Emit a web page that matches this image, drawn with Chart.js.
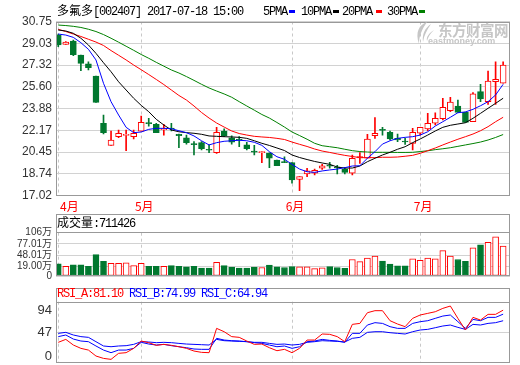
<!DOCTYPE html>
<html lang="zh-CN">
<head>
<meta charset="utf-8">
<title>多氟多 002407</title>
<script src="https://cdn.jsdelivr.net/npm/chart.js@4.4.1/dist/chart.umd.min.js"></script>
<style>
  html, body { margin: 0; padding: 0; background: #fff; }
  #board { position: relative; width: 520px; height: 365px; overflow: hidden; }
  #board canvas { position: absolute; left: 0; }
  .t { position: absolute; font: 12px "Liberation Mono", monospace; letter-spacing: -1.2px; line-height: 14px; white-space: nowrap; color: #000; }
  .cjk { font-family: "Noto Sans CJK SC", sans-serif; letter-spacing: 0; }
  .key { display: inline-block; width: 6px; height: 3px; vertical-align: middle; }
  .mark { position: absolute; color: #c6c6c6; font-family: "Noto Sans CJK SC", sans-serif; font-weight: bold; white-space: nowrap; }
  #logo { position: absolute; left: 414px; top: 22px; }
</style>
</head>
<body>
<div id="board">
  <canvas id="priceChart" width="520" height="214" style="top:0"></canvas>
  <canvas id="volumeChart" width="520" height="72" style="top:214px"></canvas>
  <canvas id="rsiChart" width="520" height="79" style="top:286px"></canvas>
  <div class="t" id="title" style="left:57px; top:3px"></div>
  <div class="t" id="maKeys" style="left:263px; top:5px"></div>
  <svg id="logo" width="20" height="22" viewBox="0 0 20 22">
    <path d="M13 0 C5 3 1 10 5 22 C5 14 8 7 13 0 Z" fill="#c6c6c6"/>
    <path d="M17 2 C11 6 8 12 9 20 C10 13 13 8 17 2 Z" fill="#c6c6c6"/>
    <path d="M20 8 C15 11 12 15 13 19 C14 15 16 12 20 8 Z" fill="#c6c6c6"/>
  </svg>
  <div class="mark" style="left:438px; top:19px; font-size:14.5px; letter-spacing:-0.5px">东方财富网</div>
  <div class="mark" style="left:428px; top:36px; font-size:9px; font-family:'Liberation Sans',sans-serif">eastmoney.com</div>
  <div class="t" id="volTitle" style="left:57px; top:215px"></div>
  <div class="t" id="rsiTitle" style="left:57px; top:287px"></div>
</div>
<script>
// ---- data ----
const stockName = '多氟多';
const stockCode = '002407';
const stamp = '2017-07-18 15:00';

const monthStarts = [0, 11, 31, 48];
const monthNames = ['4月', '5月', '6月', '7月'];

const open = [29.68, 28.95, 29.21, 28.11, 27.42, 26.45, 22.73, 20.99, 21.67, 21.78,
  21.67, 22.10, 22.75, 22.65, 22.23, 22.32, 21.86, 21.59, 21.09, 21.20,
  20.65, 20.41, 22.12, 21.59, 21.43, 21.02, 20.51, 20.42, 20.36, 19.83,
  19.68, 19.63, 18.31, 18.73, 18.79, 19.18, 19.38, 19.25, 19.12, 18.79,
  19.99, 19.97, 21.75, 22.22, 22.02, 21.54, 21.30, 21.15, 21.94, 22.28,
  22.73, 23.09, 23.72, 24.09, 23.59, 22.85, 25.22, 24.43, 26.00, 25.88];
const high = [29.76, 29.17, 29.29, 28.11, 27.58, 26.45, 23.38, 22.12, 22.20, 22.20,
  22.20, 23.30, 23.12, 22.73, 22.65, 22.73, 21.88, 21.80, 21.28, 21.28,
  21.02, 22.41, 22.30, 21.73, 21.67, 21.23, 20.99, 20.49, 20.39, 19.83,
  20.09, 19.63, 18.52, 19.18, 19.12, 19.49, 19.65, 19.42, 19.23, 20.23,
  20.41, 21.86, 23.17, 22.41, 22.12, 21.88, 21.54, 22.33, 22.41, 23.51,
  23.56, 24.70, 24.78, 24.56, 23.62, 25.14, 25.80, 26.85, 27.58, 27.58];
const low = [28.76, 28.94, 28.05, 26.87, 26.93, 24.38, 21.88, 20.99, 21.59, 20.57,
  21.49, 22.10, 22.51, 21.99, 21.80, 22.12, 20.80, 21.09, 20.23, 20.62,
  20.41, 20.36, 21.67, 21.09, 20.88, 20.62, 20.23, 19.62, 19.23, 19.38,
  19.63, 18.00, 17.41, 18.52, 18.65, 19.10, 19.18, 18.73, 18.73, 18.65,
  19.57, 19.97, 21.54, 21.80, 21.41, 21.28, 21.07, 20.62, 21.80, 22.14,
  22.59, 22.99, 23.64, 23.59, 22.80, 22.85, 24.43, 24.22, 24.22, 25.88];
const close = [28.90, 29.13, 28.13, 27.45, 27.11, 24.38, 21.99, 21.41, 21.94, 21.83,
  21.94, 22.80, 22.70, 21.99, 22.28, 22.28, 21.75, 21.20, 21.05, 20.72,
  20.60, 22.02, 21.75, 21.23, 21.39, 20.72, 20.46, 20.46, 19.97, 19.38,
  19.63, 18.26, 18.52, 18.99, 19.02, 19.38, 19.34, 19.20, 18.86, 19.97,
  20.11, 21.49, 21.94, 22.17, 21.49, 21.41, 21.25, 22.02, 22.41, 22.73,
  23.12, 23.99, 24.40, 23.59, 22.80, 25.04, 24.64, 26.06, 26.19, 27.32];

const ma5 = [29.76, 29.68, 29.50, 29.08, 28.56, 27.72, 25.88, 24.43, 23.38, 22.41,
  21.99, 22.04, 22.25, 22.33, 22.33, 22.30, 22.14, 21.99, 21.73, 21.35,
  21.02, 21.20, 21.31, 21.35, 21.39, 21.35, 21.23, 20.99, 20.49, 20.09,
  19.89, 19.49, 19.12, 18.91, 18.86, 18.97, 19.05, 19.12, 19.23, 19.36,
  19.38, 19.97, 20.49, 21.09, 21.35, 21.54, 21.62, 21.67, 21.80, 22.06,
  22.51, 22.85, 23.20, 23.56, 23.62, 23.83, 24.11, 24.43, 24.96, 25.80];
const ma10 = [30.08, 30.00, 29.82, 29.43, 28.90, 28.24, 27.50, 26.79, 26.00, 25.35,
  24.70, 24.14, 23.64, 23.04, 22.59, 22.20, 22.06, 21.99, 21.94, 21.86,
  21.73, 21.70, 21.67, 21.65, 21.62, 21.54, 21.35, 21.15, 20.98, 20.78,
  20.58, 20.23, 20.03, 19.87, 19.72, 19.60, 19.49, 19.28, 19.20, 19.20,
  19.36, 19.70, 19.97, 20.23, 20.44, 20.68, 20.88, 21.20, 21.49, 21.80,
  22.12, 22.41, 22.57, 22.67, 22.77, 23.12, 23.51, 23.91, 24.30, 24.70];
const ma20 = [30.13, 29.96, 29.76, 29.57, 29.35, 29.13, 28.86, 28.46, 28.09, 27.72,
  27.32, 26.95, 26.57, 26.18, 25.78, 25.35, 24.92, 24.56, 24.09, 23.58,
  23.14, 22.75, 22.43, 22.12, 21.92, 21.80, 21.70, 21.65, 21.61, 21.54,
  21.45, 21.25, 21.07, 20.90, 20.70, 20.54, 20.43, 20.31, 20.20, 20.11,
  20.02, 20.02, 20.02, 20.05, 20.05, 20.07, 20.13, 20.20, 20.36, 20.57,
  20.78, 21.02, 21.25, 21.47, 21.67, 21.88, 22.14, 22.46, 22.85, 23.20];
const ma30 = [30.47, 30.43, 30.37, 30.28, 30.14, 29.96, 29.72, 29.43, 29.12, 28.80,
  28.48, 28.15, 27.85, 27.53, 27.23, 26.93, 26.69, 26.41, 26.11, 25.80,
  25.51, 25.27, 25.04, 24.78, 24.43, 24.09, 23.76, 23.42, 23.14, 22.79,
  22.43, 22.04, 21.76, 21.47, 21.15, 20.96, 20.88, 20.80, 20.68, 20.57,
  20.50, 20.46, 20.44, 20.44, 20.44, 20.43, 20.43, 20.44, 20.50, 20.56,
  20.65, 20.72, 20.80, 20.91, 21.02, 21.13, 21.25, 21.41, 21.61, 21.84];

// volume in 万 (10k)
const volume = [25.2, 19.0, 22.8, 22.8, 19.0, 49.0, 31.6, 26.8, 26.8, 27.6,
  20.4, 26.8, 19.0, 19.0, 19.0, 20.4, 19.0, 17.3, 19.0, 14.2,
  14.2, 29.2, 20.4, 16.6, 14.2, 14.2, 16.6, 15.7, 22.1, 17.3,
  15.7, 18.0, 17.3, 17.3, 12.6, 15.0, 18.0, 15.7, 13.3, 36.4,
  30.9, 40.4, 45.1, 32.3, 24.5, 19.7, 19.7, 38.0, 34.0, 40.4,
  38.0, 59.4, 45.1, 36.4, 31.6, 66.5, 74.4, 80.8, 95.1, 71.1426];

const rsiA = [32.0, 36.5, 27.9, 22.8, 20.2, 11.1, 7.5, 6.0, 15.2, 16.2,
  22.8, 34.0, 31.5, 27.4, 28.9, 27.4, 25.3, 22.8, 18.7, 16.7,
  16.2, 53.3, 48.2, 40.7, 39.6, 34.0, 28.9, 29.4, 23.8, 19.2,
  21.3, 16.2, 22.8, 35.5, 35.5, 44.7, 44.2, 40.7, 33.0, 59.4,
  60.9, 77.2, 80.3, 80.3, 65.0, 59.9, 55.9, 68.6, 73.7, 76.2,
  78.7, 83.8, 87.4, 68.6, 50.8, 70.1, 66.0, 74.7, 74.7, 81.10];
const rsiB = [40.7, 43.2, 37.0, 34.0, 33.0, 26.4, 20.2, 16.2, 20.2, 20.2,
  22.8, 32.0, 29.4, 27.9, 28.9, 26.9, 25.3, 23.8, 21.8, 21.3,
  21.3, 38.1, 35.5, 34.5, 34.0, 33.0, 31.5, 30.4, 27.9, 25.3,
  26.4, 22.8, 25.3, 33.0, 34.0, 36.5, 35.0, 34.0, 32.0, 45.7,
  45.7, 58.4, 62.0, 60.9, 55.9, 53.3, 53.3, 60.9, 63.5, 65.0,
  68.6, 72.1, 73.7, 63.5, 53.3, 67.0, 65.0, 70.1, 70.1, 74.99];
const rsiC = [45.7, 47.2, 43.2, 40.7, 39.6, 33.0, 26.4, 25.3, 26.4, 26.9,
  28.9, 33.0, 32.5, 31.5, 32.0, 31.5, 30.4, 29.4, 28.9, 28.4,
  27.9, 36.5, 34.5, 34.0, 33.5, 33.0, 32.0, 32.0, 30.4, 28.9,
  29.4, 27.9, 28.9, 32.0, 33.0, 34.5, 34.0, 33.5, 32.5, 38.1,
  39.6, 47.2, 48.2, 48.2, 46.7, 45.7, 44.7, 48.2, 50.8, 51.8,
  54.3, 56.9, 58.4, 54.8, 51.8, 59.4, 58.4, 60.9, 62.0, 64.94];

const priceTicks = [17.02, 18.74, 20.45, 22.17, 23.88, 25.60, 27.32, 29.03, 30.75];
const volumeTicks = [0, 19.00, 48.01, 77.01, 106];
const volumeTickText = ['0', '19.00万', '48.01万', '77.01万', '106万'];
const rsiTicks = [0, 47, 94];

// ---- look ----
const RED = '#ff0000';
const GREEN = '#00782f';
const BLUE = '#0000ff';
const GRID = '#d2d2d2';
const FRAME = '#999999';
const X_MIN = -0.3, X_MAX = 59.91;   // candle 0 sits just inside the left edge
const VOL_FLOOR = -6.4;              // the volume panel bottom sits a bit under 0

const up = close.map((c, i) => c >= open[i]);
const pts = arr => arr.map((v, i) => ({ x: i, y: v }));

document.getElementById('title').innerHTML =
  `<span class="cjk">${stockName}</span>[${stockCode}] ${stamp}`;
document.getElementById('maKeys').innerHTML =
  '5PMA<span class="key" style="background:#0000ff;margin:0 6px 0 2px"></span>' +
  '10PMA<span class="key" style="background:#000;margin:0 3px 0 2px"></span>' +
  '20PMA<span class="key" style="background:#ff0000;margin:0 5px 0 4px"></span>' +
  '30PMA<span class="key" style="background:#008000;margin:0 0 0 2px"></span>';
document.getElementById('volTitle').innerHTML =
  `<span class="cjk">成交量</span>:${Math.round(volume[volume.length - 1] * 10000)}`;
document.getElementById('rsiTitle').innerHTML =
  `<span style="color:${RED}">RSI_A:${rsiA[rsiA.length - 1].toFixed(2)}</span> ` +
  `<span style="color:${BLUE}">RSI_B:${rsiB[rsiB.length - 1].toFixed(2)}</span> ` +
  `<span style="color:${BLUE}">RSI_C:${rsiC[rsiC.length - 1].toFixed(2)}</span>`;

// box around a panel; opts.top lets the box reach above the plot (title strip)
const framePlugin = {
  id: 'frame',
  afterDraw(chart, args, opts) {
    const { ctx, chartArea: a } = chart;
    const top = opts.top !== undefined ? opts.top : a.top;
    ctx.save();
    ctx.strokeStyle = FRAME;
    ctx.lineWidth = 1;
    const l = Math.round(a.left) + 0.5, r = Math.round(a.right) - 0.5;
    const t = Math.round(top) + 0.5, b = Math.round(a.bottom) - 0.5;
    ctx.strokeRect(l, t, r - l, b - t);
    if (opts.divider) {
      const y = Math.round(a.top) + 0.5;
      ctx.beginPath(); ctx.moveTo(l, y); ctx.lineTo(r, y); ctx.stroke();
    }
    ctx.restore();
  }
};

const monthLabelPlugin = {
  id: 'monthLabels',
  afterDraw(chart) {
    const { ctx, chartArea: a, scales: { x } } = chart;
    ctx.save();
    ctx.font = '12px "Noto Sans CJK SC", sans-serif';
    ctx.fillStyle = RED;
    ctx.textAlign = 'center';
    ctx.textBaseline = 'middle';
    monthStarts.forEach((v, i) => {
      const w = ctx.measureText(monthNames[i]).width;
      const cx = Math.max(x.getPixelForValue(v) + 3, a.left + 4 + w / 2);
      ctx.fillText(monthNames[i], cx, a.bottom + 10.5);
    });
    ctx.restore();
  }
};

const rsiLabelPlugin = {
  id: 'rsiLabels',
  afterDraw(chart) {
    const { ctx, chartArea: a, scales: { y } } = chart;
    ctx.save();
    ctx.font = '13px "Liberation Sans", Arial, sans-serif';
    ctx.fillStyle = '#333';
    ctx.textAlign = 'right';
    ctx.textBaseline = 'middle';
    rsiTicks.forEach(v => {
      const py = Math.min(Math.max(y.getPixelForValue(v), a.top + 9), a.bottom - 7);
      ctx.fillText(String(v), a.left - 4, py);
    });
    ctx.restore();
  }
};

function xAxis() {
  return {
    type: 'linear',
    min: X_MIN,
    max: X_MAX,
    offset: false,
    afterBuildTicks: s => { s.ticks = monthStarts.map(v => ({ value: v })); },
    afterFit: s => { s.height = 0; },
    ticks: { display: false },
    grid: { color: '#c8c8c8', drawTicks: false, offset: false },
    border: { display: false, dash: [3, 3] }
  };
}

function baseOptions(padding) {
  return {
    responsive: false,
    animation: false,
    devicePixelRatio: 1,
    events: [],
    layout: { padding },
    plugins: { legend: { display: false }, tooltip: { enabled: false } }
  };
}

const maLine = (label, data, color) => ({
  type: 'line', label, data: pts(data), borderColor: color, borderWidth: 1,
  pointRadius: 0, tension: 0, fill: false, order: 0
});

// ---- price panel ----
const priceOptions = baseOptions({ left: 0, right: 10, top: 21.5, bottom: 18.3 });
priceOptions.scales = {
  x: xAxis(),
  y: {
    min: 17.02,
    max: 30.75,
    afterBuildTicks: s => { s.ticks = priceTicks.map(v => ({ value: v })); },
    afterFit: s => { s.width = 56; },
    ticks: { color: '#333', font: { family: '"Liberation Sans", Arial, sans-serif', size: 12 }, padding: 4,
      autoSkip: false, callback: v => Number(v).toFixed(2) },
    grid: { color: GRID, drawTicks: false },
    border: { display: false }
  }
};
priceOptions.plugins.frame = {};

new Chart(document.getElementById('priceChart'), {
  type: 'bar',
  data: {
    datasets: [
      maLine('5PMA', ma5, BLUE),
      maLine('10PMA', ma10, '#000000'),
      maLine('20PMA', ma20, RED),
      maLine('30PMA', ma30, '#008000'),
      {
        type: 'bar', label: 'body',
        data: open.map((o, i) => ({ x: i, y: [o, close[i]] })),
        backgroundColor: up.map(u => u ? '#ffffff' : GREEN),
        borderColor: up.map(u => u ? RED : GREEN),
        borderWidth: 1, borderSkipped: false, barThickness: 6, minBarLength: 1,
        grouped: false, order: 1
      },
      {
        type: 'bar', label: 'wick',
        data: low.map((l, i) => ({ x: i, y: [l, high[i]] })),
        backgroundColor: up.map(u => u ? RED : GREEN),
        barThickness: 1, grouped: false, order: 2
      }
    ]
  },
  options: priceOptions,
  plugins: [framePlugin, monthLabelPlugin]
});

// ---- volume panel ----
const volOptions = baseOptions({ left: 0, right: 10, top: 18.7, bottom: 6 });
volOptions.scales = {
  x: xAxis(),
  y: {
    min: VOL_FLOOR,
    max: 106,
    afterBuildTicks: s => { s.ticks = volumeTicks.map(v => ({ value: v === 0 ? VOL_FLOOR : v })); },
    afterFit: s => { s.width = 56; },
    ticks: { color: '#333', font: { family: '"Liberation Sans", Arial, "Noto Sans CJK SC", sans-serif', size: 10 },
      padding: 4, autoSkip: false, callback: (v, i) => volumeTickText[i] },
    grid: { color: ctx => ctx.index === volumeTicks.length - 1 ? FRAME : GRID, drawTicks: false },
    border: { display: false }
  }
};
volOptions.plugins.frame = { top: 0 };

new Chart(document.getElementById('volumeChart'), {
  type: 'bar',
  data: {
    datasets: [{
      label: '成交量',
      data: pts(volume),
      base: VOL_FLOOR,
      backgroundColor: up.map(u => u ? '#ffffff' : GREEN),
      borderColor: up.map(u => u ? RED : GREEN),
      borderWidth: 1, borderSkipped: false, barThickness: 6, grouped: false
    }]
  },
  options: volOptions,
  plugins: [framePlugin]
});

// ---- RSI panel ----
const rsiOptions = baseOptions({ left: 0, right: 10, top: 15.7, bottom: 1.7 });
rsiOptions.scales = {
  x: xAxis(),
  y: {
    min: 0,
    max: 94,
    afterBuildTicks: s => { s.ticks = rsiTicks.map(v => ({ value: v })); },
    afterFit: s => { s.width = 56; },
    ticks: { display: false },
    grid: { color: ctx => ctx.tick && ctx.tick.value === 47 ? GRID : 'rgba(0,0,0,0)', drawTicks: false },
    border: { display: false }
  }
};
rsiOptions.plugins.frame = { top: 2.3, divider: true };

new Chart(document.getElementById('rsiChart'), {
  type: 'line',
  data: {
    datasets: [
      { label: 'RSI_A', data: pts(rsiA), borderColor: RED, borderWidth: 1, pointRadius: 0, tension: 0 },
      { label: 'RSI_B', data: pts(rsiB), borderColor: BLUE, borderWidth: 1, pointRadius: 0, tension: 0 },
      { label: 'RSI_C', data: pts(rsiC), borderColor: BLUE, borderWidth: 1, pointRadius: 0, tension: 0 }
    ]
  },
  options: rsiOptions,
  plugins: [framePlugin, rsiLabelPlugin]
});
</script>
</body>
</html>
